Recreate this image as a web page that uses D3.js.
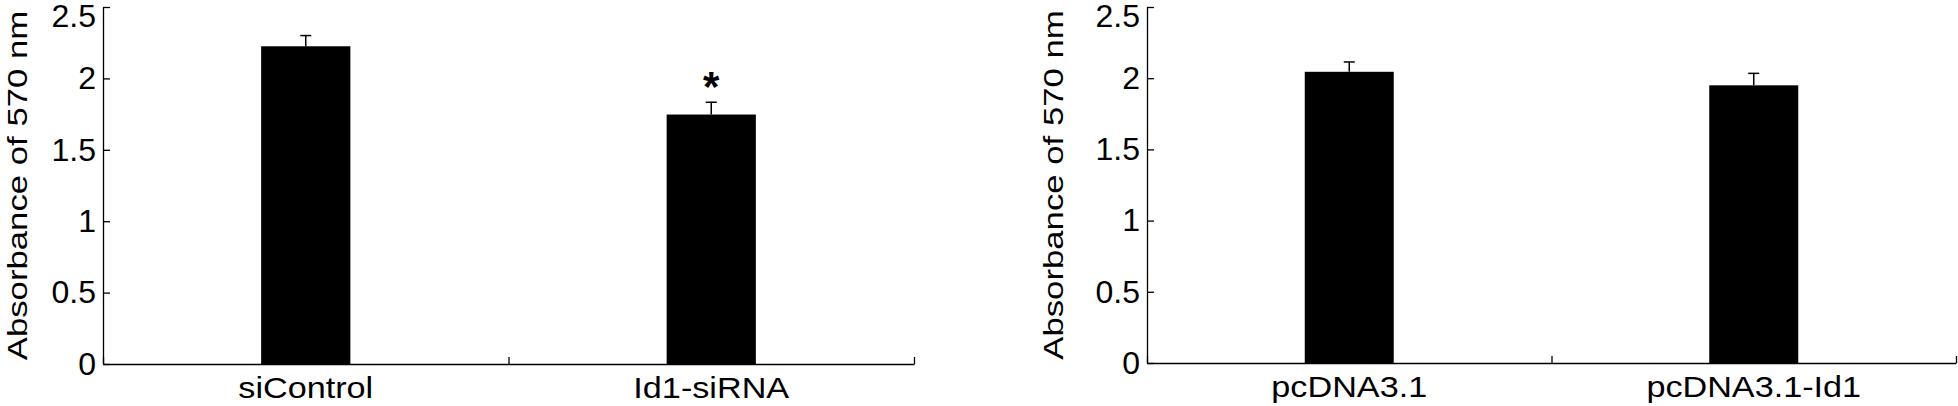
<!DOCTYPE html>
<html>
<head>
<meta charset="utf-8">
<script src="https://cdn.jsdelivr.net/npm/d3@7"></script>
<style>
  body { margin: 0; background: #fff; }
  svg text { font-family: "Liberation Sans", Arial, sans-serif; fill: #000; }
</style>
</head>
<body>
<svg id="chart" width="1958" height="406"></svg>
<script>
const yTicks = [0, 0.5, 1, 1.5, 2, 2.5];
const yLabel = "Absorbance of 570 nm";

const groupsA = ["siControl", "Id1-siRNA"],
  meansA = [2.225, 1.747],
  errA = [0.075, 0.086],
  starsA = ["", "*"];

const groupsB = ["pcDNA3.1", "pcDNA3.1-Id1"],
  meansB = [2.045, 1.95],
  errB = [0.069, 0.084],
  starsB = ["", ""];

const svg = d3.select("#chart");

function drawPanel(opts) {
  const { left, right, top, bottom, groups, means, errs, stars } = opts;

  const x = d3.scaleBand().domain(groups).range([left, right]).padding(0);
  const slot = d3.scaleLinear().domain([0, groups.length]).range([left, right]);
  const y = d3.scaleLinear().domain([0, 2.5]).range([bottom, top]);
  const bw = x.bandwidth() * 0.22;
  const cx = name => x(name) + x.bandwidth() / 2;

  const g = svg.append("g");

  // bars
  g.selectAll(".bar")
    .data(means)
    .enter()
    .append("rect")
    .attr("x", (d, i) => cx(groups[i]) - bw / 2)
    .attr("width", bw)
    .attr("y", d => y(d))
    .attr("height", d => bottom - y(d))
    .style("fill", "#000");

  // error bars, upper half only
  const eb = g.selectAll(".err")
    .data(means)
    .enter()
    .append("g")
    .attr("stroke", "#000")
    .attr("stroke-width", 1.5);
  eb.append("line")
    .attr("x1", (d, i) => cx(groups[i]))
    .attr("x2", (d, i) => cx(groups[i]))
    .attr("y1", d => y(d))
    .attr("y2", (d, i) => y(d + errs[i]));
  eb.append("line")
    .attr("x1", (d, i) => cx(groups[i]) - 5.5)
    .attr("x2", (d, i) => cx(groups[i]) + 5.5)
    .attr("y1", (d, i) => y(d + errs[i]))
    .attr("y2", (d, i) => y(d + errs[i]));

  // significance marks
  g.selectAll(".star")
    .data(stars)
    .enter()
    .append("text")
    .attr("x", (d, i) => cx(groups[i]))
    .attr("y", (d, i) => y(means[i] + errs[i]) - 1)
    .attr("text-anchor", "middle")
    .style("font-size", "42px")
    .style("font-weight", "bold")
    .text(d => d);

  // y axis, ticks pointing inward
  const yAxis = g.append("g")
    .attr("transform", "translate(" + left + ",0)")
    .call(d3.axisLeft(y).tickValues(yTicks).tickFormat(d => String(d))
      .tickSizeInner(-7).tickSizeOuter(0).tickPadding(7));
  yAxis.selectAll("text").style("font-size", "32px").style("font-family", null);
  // top label sits below its tick so it stays in the frame
  yAxis.selectAll(".tick text").filter(d => d === 2.5).attr("dy", "0.62em");
  yAxis.selectAll("line, path").attr("stroke", "#000").attr("stroke-width", 1.3);

  // x axis, ticks at group boundaries
  const xAxis = g.append("g")
    .attr("transform", "translate(0," + bottom + ")")
    .call(d3.axisBottom(slot).tickValues(d3.range(groups.length + 1))
      .tickSizeInner(-7).tickSizeOuter(0).tickFormat(""));
  xAxis.selectAll("line, path").attr("stroke", "#000").attr("stroke-width", 1.3);

  // category labels (source text is a bit wide, so stretch)
  g.selectAll(".cat")
    .data(groups)
    .enter()
    .append("text")
    .attr("transform", d => "translate(" + cx(d) + "," + (bottom + 34) + ") scale(1.14,1)")
    .attr("text-anchor", "middle")
    .style("font-size", "30px")
    .text(d => d);

  // y title
  g.append("text")
    .attr("transform", "translate(" + opts.titleX + "," + (top + bottom) / 2 + ") rotate(-90) scale(1.22,1)")
    .attr("text-anchor", "middle")
    .style("font-size", "28.5px")
    .text(yLabel);
}

drawPanel({
  left: 103, right: 914, top: 7, bottom: 364,
  groups: groupsA, means: meansA, errs: errA, stars: starsA, titleX: 27
});
drawPanel({
  left: 1147, right: 1956, top: 7, bottom: 363,
  groups: groupsB, means: meansB, errs: errB, stars: starsB, titleX: 1063
});
</script>
</body>
</html>
